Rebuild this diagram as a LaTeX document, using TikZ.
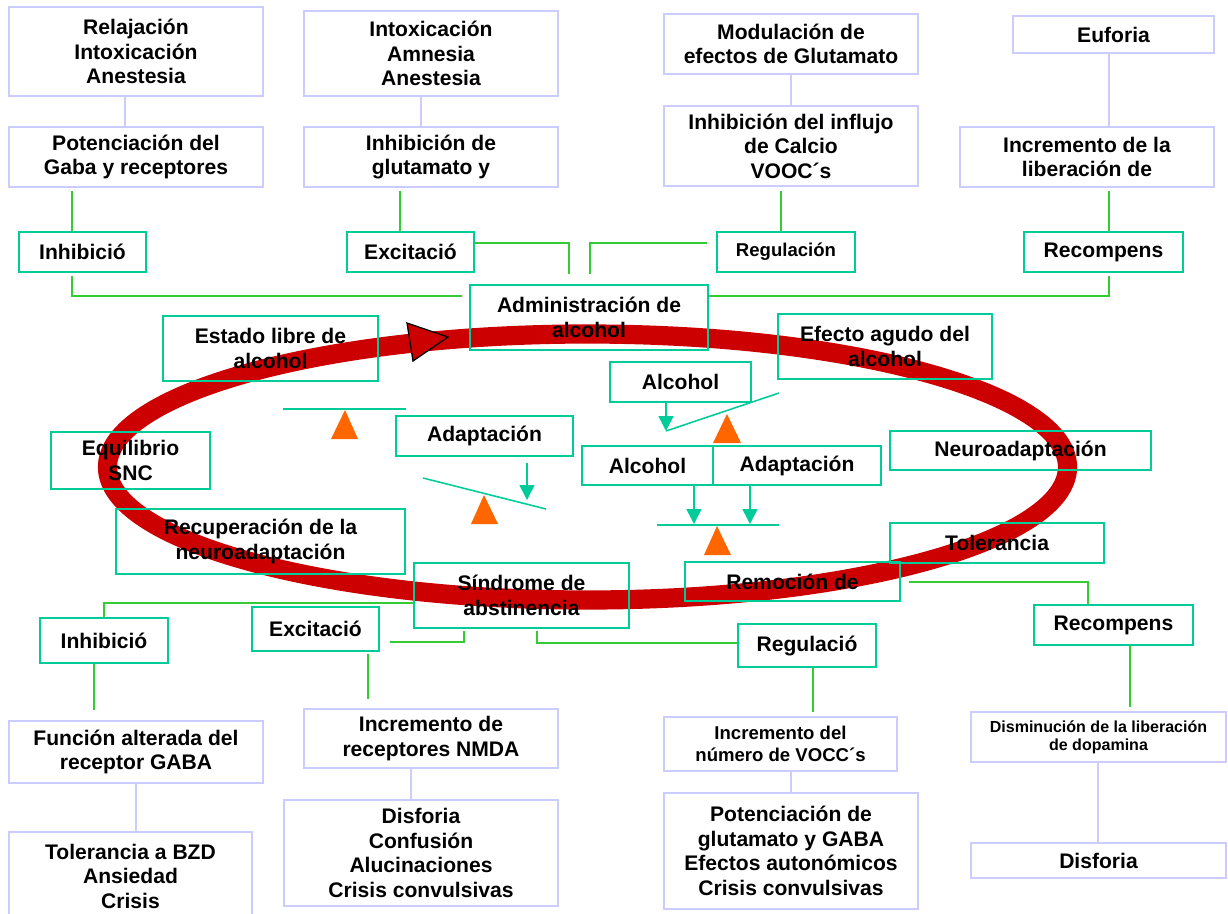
\documentclass[tikz,border=0pt]{standalone}
\usepackage{fontspec}
\setmainfont{Liberation Sans}
\usetikzlibrary{arrows.meta}
\definecolor{lav}{RGB}{204,204,255}
\definecolor{boxteal}{RGB}{0,204,153}
\definecolor{linkgreen}{RGB}{51,204,51}
\definecolor{ringred}{RGB}{204,0,0}
\definecolor{fulcorange}{RGB}{255,102,0}
\tikzset{
  lavbox/.style={draw=lav, line width=1.2pt, align=center, inner sep=0pt,
    font=\bfseries\fontsize{15}{17.4}\selectfont},
  tealbox/.style={draw=boxteal, line width=1.2pt, align=center, inner sep=0pt,
    font=\bfseries\fontsize{15}{17.4}\selectfont},
  sz/.style 2 args={minimum width=#1*0.025cm, minimum height=#2*0.025cm},
  link/.style={linkgreen, line width=1.1pt},
  lavlink/.style={lav, line width=1.2pt},
  beam/.style={boxteal, line width=1.1pt},
  arr/.style={boxteal, line width=1.1pt, -{Triangle[length=0.37cm, width=0.37cm]}},
  fulc/.style={fill=fulcorange}
}
\begin{document}
\begin{tikzpicture}[x=0.025cm, y=-0.025cm]
  \clip (0,0) rectangle (1228,913);
  % cycle
  \draw[ringred, line width=0.48cm] (587.5,467) ellipse [x radius=480, y radius=133];
  \filldraw[fill=ringred, draw=black, line width=0.9pt] (407,323) -- (448,337) -- (413,361) -- cycle;

  % top row
  \node[lavbox, sz={254}{89}] (relax) at (136,51.5) {Relajación\\Intoxicación\\Anestesia};
  \node[lavbox, sz={254}{60}] (potGaba) at (136,157) {Potenciación del\\Gaba y receptores};
  \node[lavbox, sz={254}{85}] (intox) at (431,53.5) {Intoxicación\\Amnesia\\Anestesia};
  \node[lavbox, sz={254}{60}] (inhGlu) at (431,157) {Inhibición de\\glutamato y};
  \node[lavbox, sz={254}{60}] (modul) at (791,44) {Modulación de\\efectos de Glutamato};
  \node[lavbox, sz={254}{80}] (inhCa) at (791,146) {Inhibición del influjo\\de Calcio\\VOOC´s};
  \node[lavbox, sz={201}{37}] (eufor) at (1113.5,34.5) {Euforia};
  \node[lavbox, sz={254}{60}] (incLib) at (1087,157) {Incremento de la\\liberación de};
  \node[tealbox, sz={127}{40}] (inhA) at (82.5,252) {Inhibició};
  \node[tealbox, sz={127}{40}] (excA) at (410.5,252) {Excitació};
  \node[tealbox, sz={138}{40}, font=\bfseries\fontsize{13.2}{15}\selectfont] (regA) at (786,252) {Regulación};
  \node[tealbox, sz={159}{40}] (recA) at (1103.5,252) {Recompens};

  % around the cycle
  \node[tealbox, sz={238}{65}] (adm) at (589,317.5) {Administración de\\alcohol};
  \node[tealbox, sz={215}{65}] (estado) at (270.5,348.5) {Estado libre de\\alcohol};
  \node[tealbox, sz={214}{65}] (efecto) at (885,346.5) {Efecto agudo del\\alcohol};
  \node[tealbox, sz={159}{57}] (equil) at (130.5,460.5) {Equilibrio\\SNC};
  \node[tealbox, sz={261}{39}] (neuro) at (1020.5,450.5) {Neuroadaptación};
  \node[tealbox, sz={289}{65}] (recup) at (260.5,541.5) {Recuperación de la\\neuroadaptación};
  \node[tealbox, sz={214}{40}] (toler) at (997,543) {Tolerancia};
  \node[tealbox, sz={215}{39}] (remov) at (792.5,581.5) {Remoción de};
  \node[tealbox, sz={215}{65}] (synd) at (521.5,595.5) {Síndrome de\\abstinencia};

  % balances
  \node[tealbox, sz={141}{40}] (alcU) at (680.5,382) {Alcohol};
  \node[tealbox, sz={177}{40}] (adapL) at (484.5,436) {Adaptación};
  \node[tealbox, sz={131}{39}] (alcL) at (647.5,465.5) {Alcohol};
  \node[tealbox, sz={168}{39}] (adapR) at (797,465.5) {Adaptación};
  \coordinate (tipA) at (527,500);
  \coordinate (tipB) at (666,431);
  \coordinate (tipC) at (694,524);
  \coordinate (tipD) at (750,524);
  \draw[beam] (283,409) -- (406,409);
  \draw[beam] (423,478) -- (546,509);
  \draw[beam] (tipB) -- (779,393);
  \draw[beam] (657,525) -- (779,525);
  \fill[fulc] (345,410) -- (358,439) -- (331,439) -- cycle;
  \fill[fulc] (484,495) -- (498,524) -- (471,524) -- cycle;
  \fill[fulc] (727,414) -- (741,443) -- (713,443) -- cycle;
  \fill[fulc] (717,526) -- (731,555) -- (704,555) -- cycle;
  \draw[arr, shorten <=0.15cm] (adapL.south -| tipA) -- (tipA);
  \draw[arr] (alcU.south -| tipB) -- (tipB);
  \draw[arr] (alcL.south -| tipC) -- (tipC);
  \draw[arr] (adapR.south -| tipD) -- (tipD);

  % bottom row
  \node[tealbox, sz={128}{45}] (inhB) at (104,640.5) {Inhibició};
  \node[tealbox, sz={127}{44}] (excB) at (315.5,629) {Excitació};
  \node[tealbox, sz={138}{43}] (regB) at (807,645.5) {Regulació};
  \node[tealbox, sz={159}{40}] (recB) at (1113.5,625) {Recompens};
  \node[lavbox, sz={254}{62}] (funcG) at (136,752) {Función alterada del\\receptor GABA};
  \node[lavbox, sz={254}{59}] (incNMDA) at (431,738.5) {Incremento de\\receptores NMDA};
  \node[lavbox, sz={233}{54}, font=\bfseries\fontsize{13.2}{15.6}\selectfont] (incVOCC) at (780.5,744) {Incremento del\\número de VOCC´s};
  \node[lavbox, sz={255}{50}, font=\bfseries\fontsize{11.4}{12.8}\selectfont] (dismin) at (1098.5,737) {Disminución de la liberación\\de dopamina};
  \node[lavbox, sz={243}{88}] (tolBZD) at (130.5,876) {Tolerancia a BZD\\Ansiedad\\Crisis};
  \node[lavbox, sz={274}{106}] (disfA) at (421,853) {Disforia\\Confusión\\Alucinaciones\\Crisis convulsivas};
  \node[lavbox, sz={254}{116}] (potGlu) at (791,851) {Potenciación de\\glutamato y GABA\\Efectos autonómicos\\Crisis convulsivas};
  \node[lavbox, sz={255}{35}] (disfB) at (1098.5,860.5) {Disforia};

  % links top
  \draw[lavlink] (relax.south -| 125,0) -- (potGaba.north -| 125,0);
  \draw[lavlink] (intox.south -| 421,0) -- (inhGlu.north -| 421,0);
  \draw[lavlink] (modul.south -| 791,0) -- (inhCa.north -| 791,0);
  \draw[lavlink] (eufor.south -| 1109,0) -- (incLib.north -| 1109,0);
  \draw[link, shorten <=0.075cm] (potGaba.south -| 72,0) -- (inhA.north -| 72,0);
  \draw[link, shorten <=0.075cm] (inhGlu.south -| 400,0) -- (excA.north -| 400,0);
  \draw[link, shorten <=0.1cm] (inhCa.south -| 781,0) -- (regA.north -| 781,0);
  \draw[link, shorten <=0.075cm] (incLib.south -| 1109,0) -- (recA.north -| 1109,0);
  \draw[link, shorten <=0.075cm, shorten >=0.175cm] (inhA.south -| 72,0) |- (adm.west |- 0,296);
  \draw[link, shorten >=0.25cm] (excA.east |- 0,243) -| (adm.north -| 569,0);
  \draw[link, shorten <=0.25cm, shorten >=0.225cm] (adm.north -| 590,0) |- (regA.west |- 0,243);
  \draw[link, shorten <=0.075cm] (recA.south -| 1109,0) |- (adm.east |- 0,296);

  % links bottom
  \draw[link] (synd.west |- 0,603) -| (inhB.north);
  \draw[link, shorten <=0.25cm, shorten >=0.05cm] (excB.east |- 0,642) -| (synd.south -| 464,0);
  \draw[link, shorten <=0.05cm] (synd.south -| 537,0) |- (regB.west |- 0,643);
  \draw[link, shorten <=0.2cm] (remov.east |- 0,582) -| (recB.north -| 1088,0);
  \draw[link, shorten >=0.25cm] (inhB.south -| 94,0) -- (funcG.north -| 94,0);
  \draw[link, shorten <=0.05cm, shorten >=0.225cm] (excB.south -| 368,0) -- (incNMDA.north -| 368,0);
  \draw[link, shorten >=0.1cm] (regB.south -| 813,0) -- (incVOCC.north -| 813,0);
  \draw[link, shorten >=0.1cm] (recB.south -| 1130,0) -- (dismin.north -| 1130,0);
  \draw[lavlink] (funcG.south -| 136,0) -- (tolBZD.north -| 136,0);
  \draw[lavlink] (incNMDA.south -| 411,0) -- (disfA.north -| 411,0);
  \draw[lavlink] (incVOCC.south -| 791,0) -- (potGlu.north -| 791,0);
  \draw[lavlink] (dismin.south -| 1098,0) -- (disfB.north -| 1098,0);
\end{tikzpicture}
\end{document}
